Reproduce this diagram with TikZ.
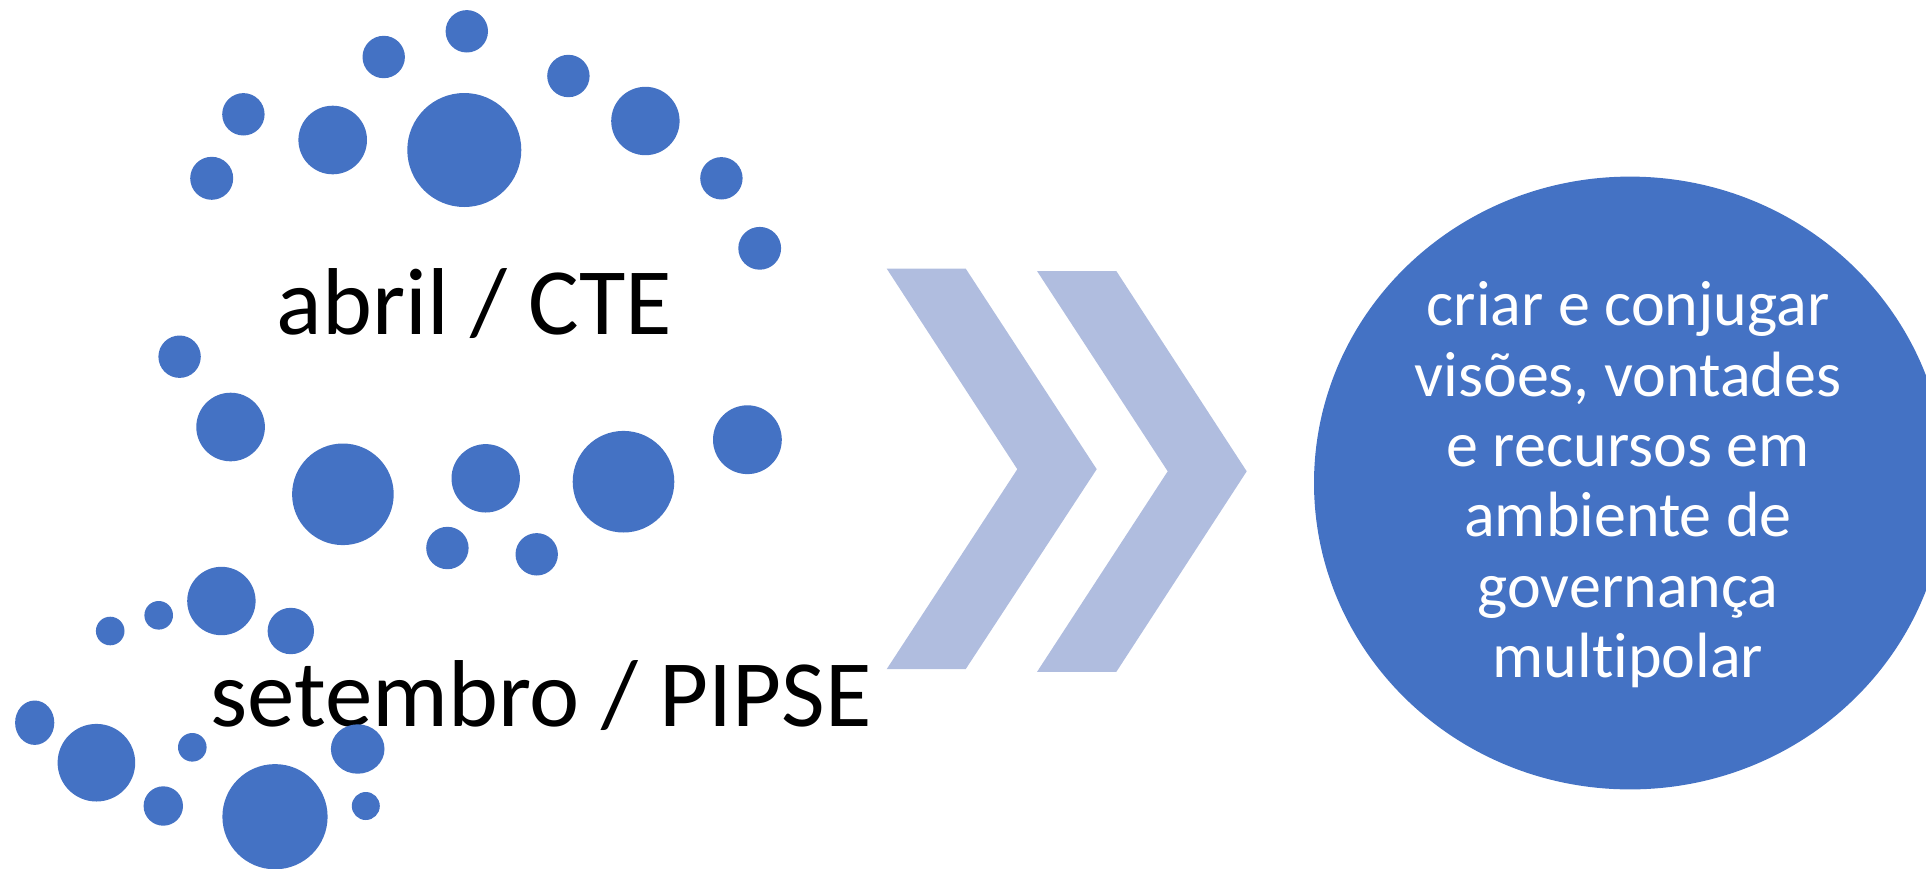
\documentclass[tikz,border=0pt]{standalone}
\usepackage{fontspec}
\setmainfont{Carlito}[Ligatures={NoCommon,NoRare,NoDiscretionary}]
\usetikzlibrary{shapes.geometric}
\definecolor{dotblue}{HTML}{4472C4}
\definecolor{chevblue}{HTML}{B0BDDF}
\begin{document}
\begin{tikzpicture}[x=1pt,y=-1pt,
  dotstyle/.style={fill=dotblue},
  chevstyle/.style={fill=chevblue},
  bigtext/.style={anchor=base,inner sep=0pt,font=\fontsize{95}{114}\selectfont,text=black},
  goaltext/.style={align=center,inner sep=0pt,font=\fontsize{64}{70.3}\selectfont,text=white}]
\useasboundingbox (0,0) rectangle (1926,868);
% texts on the left
\node[bigtext] (abril) at (474.5,334.3) {abril / CTE};
\node[bigtext] (setembro) at (541,726) {setembro / PIPSE};
% dots
\foreach \cx/\cy/\rx/\ry in {
 466.8/31.3/21.2/21.2, 383.7/57/21.2/21.2, 568.4/76/21.2/21.2,
 243.4/114.3/21.2/21.2, 332.7/140/34.3/34.3, 464.3/150/57/57,
 645.4/121/34.2/34.2, 211.7/178.3/21.5/21.5, 721.4/178.3/21.2/21.2,
 759.7/248.3/21.4/21.4, 179.6/356.7/21.2/21.2, 230.6/427/34.3/34.3,
 342.9/494.3/50.8/50.8, 485.7/478.3/34.2/34.2, 623.5/481.7/50.8/50.8,
 747.4/439.7/34.4/34.4, 447.4/548/21.2/21.2, 536.7/554.3/21.2/21.2,
 221.4/601/34.2/34.2, 158.7/615.3/14.3/14.3, 110.2/631/14.3/14.3,
 290.8/631/23.2/23.2, 34.7/722.7/19.6/22.2, 96.4/762.7/38.8/38.8,
 192.3/747.3/14.3/14.3, 357.7/749/26.8/24.7, 163.3/806/19.7/19.7,
 275/816.7/52.6/52.6, 365.8/806/14/14}
 {\fill[dotstyle] (\cx,\cy) ellipse [x radius=\rx pt, y radius=\ry pt];}
% chevrons
\fill[chevstyle] (886.7,268.6) -- (965.7,268.6) -- (1096.7,469.2) -- (965.7,669.1) -- (886.7,669.1) -- (1017.3,469.2) -- cycle;
\fill[chevstyle] (1037,271) -- (1116.3,271) -- (1246.7,471.3) -- (1116.3,671.9) -- (1037,671.9) -- (1167.7,471.3) -- cycle;
% goal ellipse
\node[ellipse,fill=dotblue,inner sep=0pt,minimum width=632pt,minimum height=612.8pt] (goal) at (1630,483) {};
\node[goaltext,anchor=base] (goaltxt) at (1628,677.4) {criar e conjugar\\visões, vontades\\e recursos em\\ambiente de\\governança\\multipolar};
\end{tikzpicture}
\end{document}
